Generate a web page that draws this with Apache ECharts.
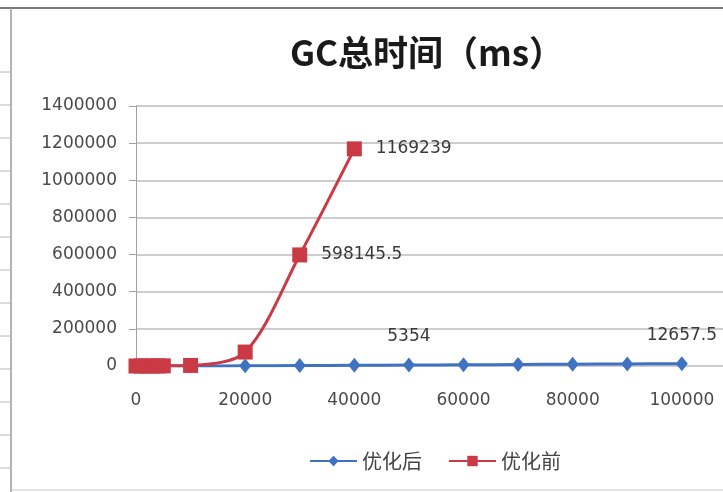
<!DOCTYPE html>
<html>
<head>
<meta charset="utf-8">
<script src="https://cdn.jsdelivr.net/npm/echarts@6/dist/echarts.min.js"></script>
<style>
  html, body { margin: 0; padding: 0; background: #ffffff; }
  #chart { width: 723px; height: 492px; }
</style>
</head>
<body>
<div id="chart"></div>
<script>
// GC total time (ms) versus load, before and after optimisation
const titleText = 'GC总时间（ms）';
const seriesNames = ['优化后', '优化前'];

// 优化后 (after optimisation)
const afterX = [0, 1000, 2000, 3000, 4000, 5000, 10000, 20000, 30000, 40000, 50000, 60000, 70000, 80000, 90000, 100000];
const afterY = [0, 10, 20, 30, 40, 50, 200, 1000, 2100, 3600, 5354, 6700, 8100, 9600, 11000, 12657.5];

// 优化前 (before optimisation)
const beforeX = [0, 1000, 2000, 3000, 4000, 5000, 10000, 20000, 30000, 40000];
const beforeY = [0, 50, 150, 300, 500, 800, 3000, 75000, 598145.5, 1169239];

// values that carry a data label
const labelledAfter = [5354, 12657.5];
const labelledBefore = [598145.5, 1169239];

const xTicks = { min: 0, max: 120000, interval: 20000 };
const yTicks = { min: 0, max: 1400000, interval: 200000 };

const numFont = 'DejaVu Sans, sans-serif';
const cjkFont = 'Noto Sans CJK SC, sans-serif';
const axisFont = { fontFamily: numFont, fontSize: 17, color: '#4a4a4a' };

function pairs(xs, ys) { return xs.map((x, i) => [x, ys[i]]); }

const chart = echarts.init(document.getElementById('chart'), null, { renderer: 'canvas' });

// spreadsheet edge around the chart object
const sheetMarks = [];
for (let y = 72; y < 480; y += 33) {
  sheetMarks.push({ type: 'line', shape: { x1: 0, y1: y, x2: 10, y2: y }, style: { stroke: '#b8b8b8', lineWidth: 1 } });
}

chart.setOption({
  backgroundColor: '#ffffff',
  animation: false,
  title: {
    text: titleText,
    left: 422,
    textAlign: 'center',
    top: 30,
    textStyle: { fontFamily: cjkFont, fontSize: 35, fontWeight: 'bold', color: '#1a1a1a' }
  },
  legend: {
    bottom: 16,
    left: 304,
    itemWidth: 47,
    itemHeight: 13,
    itemGap: 26,
    textStyle: { fontFamily: cjkFont, fontSize: 20, color: '#444' },
    data: seriesNames
  },
  grid: { left: 136, right: -68, top: 106, bottom: 126, outerBoundsMode: 'none', containLabel: false },
  xAxis: {
    type: 'value',
    min: xTicks.min, max: xTicks.max, interval: xTicks.interval,
    axisLine: { show: false },
    axisTick: { show: false },
    splitLine: { show: false },
    axisLabel: Object.assign({ margin: 26, formatter: v => String(v) }, axisFont)
  },
  yAxis: {
    type: 'value',
    min: yTicks.min, max: yTicks.max, interval: yTicks.interval,
    axisLine: { show: true, lineStyle: { color: '#a0a0a0', width: 1 } },
    axisTick: { show: true, inside: false, length: 7, lineStyle: { color: '#a0a0a0' } },
    splitLine: { show: true, lineStyle: { color: '#bdbdbd', width: 1.5 } },
    axisLabel: Object.assign({ margin: 19, formatter: v => String(v) }, axisFont)
  },
  graphic: [
    { type: 'line', shape: { x1: 0, y1: 8, x2: 723, y2: 8 }, style: { stroke: '#7a7a7a', lineWidth: 2 } },
    { type: 'line', shape: { x1: 11, y1: 8, x2: 11, y2: 492 }, style: { stroke: '#9a9a9a', lineWidth: 1.5 } },
    { type: 'line', shape: { x1: 11, y1: 490, x2: 723, y2: 490 }, style: { stroke: '#c8c8c8', lineWidth: 1 } }
  ].concat(sheetMarks),
  series: [
    {
      name: seriesNames[0],
      type: 'line',
      smooth: 0.3,
      data: pairs(afterX, afterY),
      symbol: 'diamond',
      symbolSize: [12, 15],
      itemStyle: { color: '#3f72c0' },
      lineStyle: { color: '#3f72c0', width: 3 },
      label: {
        show: true,
        position: 'top',
        distance: 12,
        fontFamily: numFont,
        fontSize: 17,
        color: '#3a3a3a',
        formatter: p => labelledAfter.includes(p.value[1]) ? String(p.value[1]) : ''
      },
      z: 2
    },
    {
      name: seriesNames[1],
      type: 'line',
      smooth: 0.3,
      data: pairs(beforeX, beforeY),
      symbol: 'rect',
      symbolSize: 15,
      itemStyle: { color: '#c93a45' },
      lineStyle: { color: '#c93a45', width: 3 },
      label: {
        show: true,
        position: 'right',
        distance: 14,
        fontFamily: numFont,
        fontSize: 17,
        color: '#3a3a3a',
        formatter: p => labelledBefore.includes(p.value[1]) ? String(p.value[1]) : ''
      },
      z: 3
    }
  ]
});
</script>
</body>
</html>
